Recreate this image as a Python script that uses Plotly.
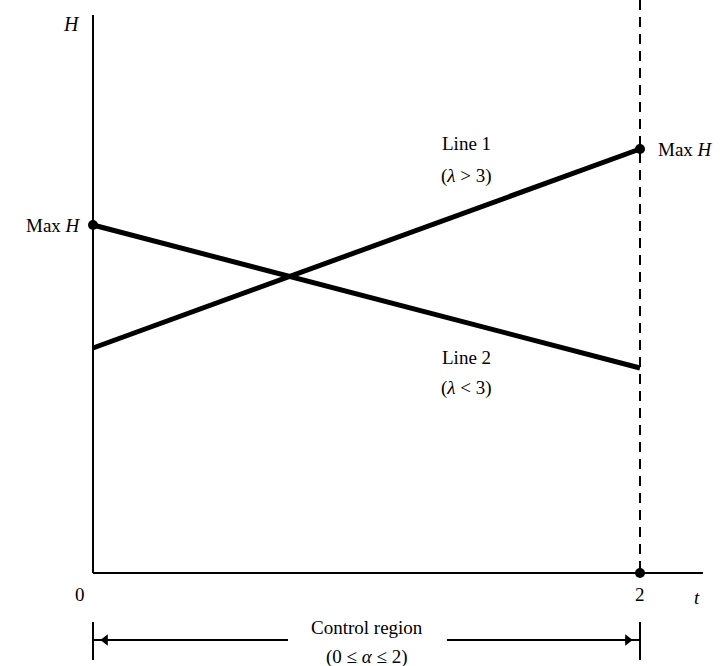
import plotly.graph_objects as go

# Control variable range and the two objective lines H(alpha)
alpha_ends = [0, 2]
line1_H = [2.25, 4.24]   # Line 1 (lambda > 3): rises, max at alpha = 2
line2_H = [3.48, 2.05]   # Line 2 (lambda < 3): falls, max at alpha = 0
x_ticks = [0, 2]
x_tick_labels = ["0", "2"]
axis_top_H = 5.58
axis_end_x = 2.23

FONT = "Liberation Serif"
BLACK = "black"

fig = go.Figure()

# Main axes
fig.add_trace(go.Scatter(x=[0, 0, None, 0, axis_end_x],
                         y=[axis_top_H, 0, None, 0, 0],
                         mode="lines", line=dict(color=BLACK, width=2),
                         hoverinfo="skip"))

# Dashed boundary of the control region
fig.add_trace(go.Scatter(x=[alpha_ends[1], alpha_ends[1]], y=[5.73, 0],
                         mode="lines",
                         line=dict(color=BLACK, width=2, dash="10px,7px"),
                         hoverinfo="skip"))

# The two lines
fig.add_trace(go.Scatter(x=alpha_ends, y=line1_H, mode="lines",
                         line=dict(color=BLACK, width=5), hoverinfo="skip"))
fig.add_trace(go.Scatter(x=alpha_ends, y=line2_H, mode="lines",
                         line=dict(color=BLACK, width=5), hoverinfo="skip"))

# Maximum points and the endpoint on the axis
fig.add_trace(go.Scatter(x=[alpha_ends[0], alpha_ends[1], alpha_ends[1]],
                         y=[max(line2_H), max(line1_H), 0],
                         mode="markers",
                         marker=dict(color=BLACK, size=10, symbol="circle"),
                         hoverinfo="skip"))

# Control region dimension bar
bar_y = -0.67
fig.add_trace(go.Scatter(x=[0, 0, None, 2, 2], y=[-0.49, -0.87, None, -0.49, -0.87],
                         mode="lines", line=dict(color=BLACK, width=2),
                         hoverinfo="skip"))
fig.add_trace(go.Scatter(x=[0, 0.713, None, 1.294, 2], y=[bar_y, bar_y, None, bar_y, bar_y],
                         mode="lines", line=dict(color=BLACK, width=2),
                         hoverinfo="skip"))
fig.add_trace(go.Scatter(x=[0.045, 1.955], y=[bar_y, bar_y], mode="markers",
                         marker=dict(color=BLACK, size=10,
                                     symbol=["triangle-left", "triangle-right"]),
                         hoverinfo="skip"))

annotations = [
    dict(x=-0.077, y=5.49, text="<i>H</i>", font=dict(size=20)),
    dict(x=-0.035, y=max(line2_H), text="Max <i>H</i>", xanchor="right", font=dict(size=19)),
    dict(x=2.06, y=max(line1_H), text="Max <i>H</i>", xanchor="left", font=dict(size=19)),
    dict(x=1.367, y=4.30, text="Line 1", font=dict(size=19)),
    dict(x=1.367, y=3.97, text="(<i>λ</i> > 3)", font=dict(size=19)),
    dict(x=1.367, y=2.16, text="Line 2", font=dict(size=19)),
    dict(x=1.367, y=1.85, text="(<i>λ</i> < 3)", font=dict(size=19)),
    dict(x=2.21, y=-0.24, text="<i>t</i>", font=dict(size=19)),
    dict(x=1.00, y=-0.54, text="Control region", font=dict(size=19)),
    dict(x=1.00, y=-0.84, text="(0 ≤ <i>α</i> ≤ 2)", font=dict(size=19)),
]
for xv, lab in zip(x_ticks, x_tick_labels):
    annotations.append(dict(x=xv - (0.048 if xv == 0 else 0), y=-0.21, text=lab,
                            font=dict(size=19)))
for a in annotations:
    a.update(showarrow=False, xref="x", yref="y")
    a.setdefault("xanchor", "center")
    a["font"].update(family=FONT, color=BLACK)

fig.update_layout(
    width=722, height=666,
    margin=dict(l=0, r=0, t=0, b=0),
    paper_bgcolor="white", plot_bgcolor="white",
    showlegend=False,
    annotations=annotations,
    xaxis=dict(range=[-93 / 273.5, 629 / 273.5], visible=False, fixedrange=True),
    yaxis=dict(range=[-0.93, 5.73], visible=False, fixedrange=True),
)

fig.write_html("out.html")
